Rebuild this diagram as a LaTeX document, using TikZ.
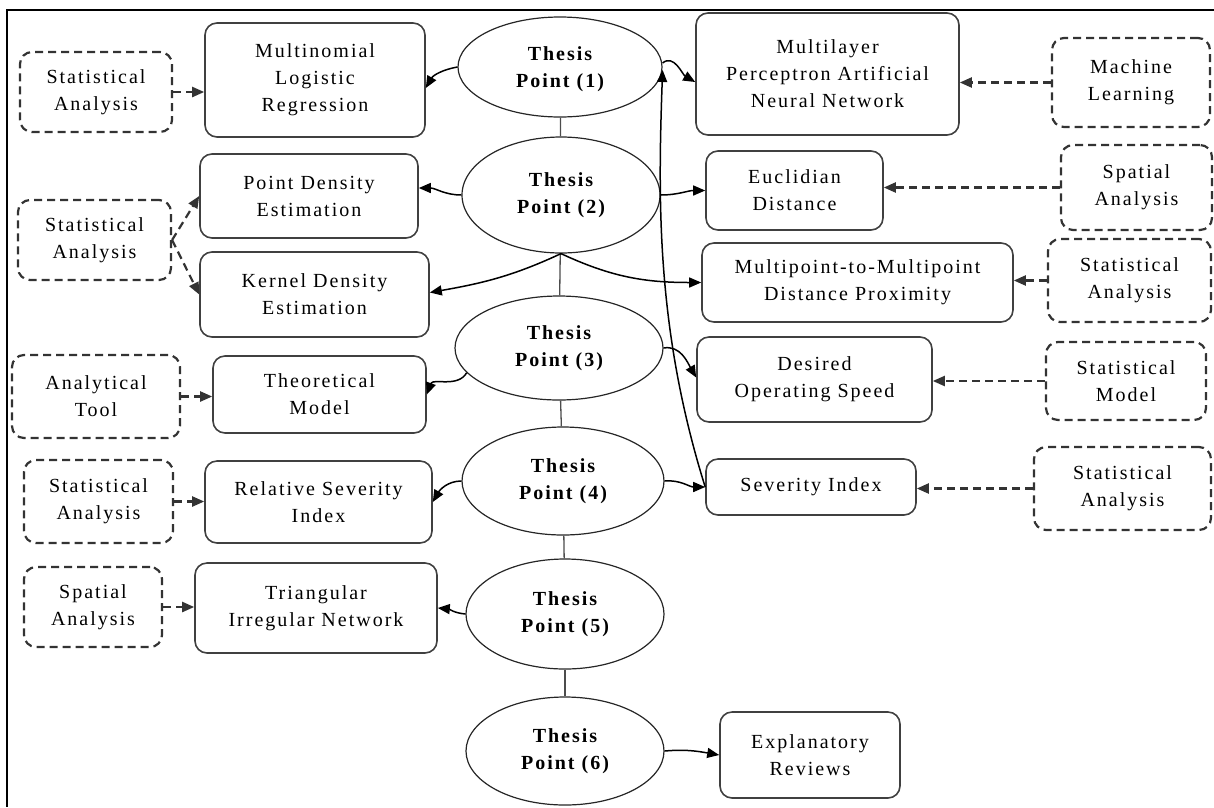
\documentclass[tikz,border=0pt]{standalone}
\usepackage{fontspec}
\setmainfont{Liberation Serif}[LetterSpace=10]
\usetikzlibrary{arrows.meta,shapes.geometric}
\begin{document}
\begin{tikzpicture}[x=1pt,y=1pt,
  font=\fontsize{20}{27}\selectfont,
  sbox/.style={draw=black!75, line width=1.6pt, rounded corners=12pt, align=center, inner sep=0pt},
  dbox/.style={draw=black!80, line width=2.2pt, dash pattern=on 8pt off 5pt, rounded corners=12pt, align=center, inner sep=0pt},
  tp/.style={ellipse, draw=black!85, line width=1.2pt, align=center, inner sep=0pt, font=\fontsize{20}{27}\selectfont\bfseries},
  arr/.style={-{Triangle[length=12pt,width=10pt]}, line width=1.5pt},
  darr/.style={-{Triangle[length=12pt,width=10pt]}, line width=2.2pt, black!80, dash pattern=on 8pt off 5pt},
  link/.style={line width=1.3pt, black!70}]
\useasboundingbox (0,0) rectangle (1214,-807);
% frame
\draw[line width=2.5pt] (1214,-10) -- (7,-10) -- (7,-807);

% thesis points
\node[tp, minimum width=204pt, minimum height=100pt, text depth=-4pt] (TP1) at (560,-67) {Thesis\\Point (1)};
\node[tp, minimum width=198pt, minimum height=116pt] (TP2) at (561,-195) {Thesis\\Point (2)};
\node[tp, minimum width=208pt, minimum height=104pt] (TP3) at (559,-348) {Thesis\\Point (3)};
\node[tp, minimum width=202pt, minimum height=108pt] (TP4) at (563,-481) {Thesis\\Point (4)};
\node[tp, minimum width=198pt, minimum height=110pt] (TP5) at (565,-614) {Thesis\\Point (5)};
\node[tp, minimum width=198pt, minimum height=108pt] (TP6) at (565,-751) {Thesis\\Point (6)};

% left column
\node[dbox, minimum width=152pt, minimum height=80pt] (SAa) at (96,-92) {Statistical\\Analysis};
\node[sbox, minimum width=220pt, minimum height=114pt] (MLR) at (315,-80) {Multinomial\\Logistic\\Regression};
\node[sbox, minimum width=218pt, minimum height=84pt] (PDE) at (309,-196) {Point Density\\Estimation};
\node[dbox, minimum width=153pt, minimum height=80pt] (SAb) at (94.5,-240) {Statistical\\Analysis};
\node[sbox, minimum width=229pt, minimum height=85pt] (KDE) at (314.5,-294.5) {Kernel Density\\Estimation};
\node[dbox, minimum width=168pt, minimum height=83pt] (AT) at (96,-396.5) {Analytical\\Tool};
\node[sbox, minimum width=213pt, minimum height=77pt] (TM) at (319.5,-394.5) {Theoretical\\Model};
\node[dbox, minimum width=149pt, minimum height=83pt] (SAc) at (98.5,-501.5) {Statistical\\Analysis};
\node[sbox, minimum width=227pt, minimum height=82pt] (RSI) at (318.5,-502) {Relative Severity\\Index};
\node[dbox, minimum width=138pt, minimum height=80pt] (SpA) at (93,-607) {Spatial\\Analysis};
\node[sbox, minimum width=242pt, minimum height=90pt] (TIN) at (316,-608) {Triangular\\Irregular Network};
\node[sbox, minimum width=180pt, minimum height=86pt] (ER) at (810,-755) {Explanatory\\Reviews};

% right column
\node[sbox, minimum width=263pt, minimum height=122pt] (MLP) at (827.5,-74) {Multilayer\\Perceptron Artificial\\Neural Network};
\node[dbox, minimum width=158pt, minimum height=89pt] (ML) at (1131,-82.5) {Machine\\Learning};
\node[sbox, minimum width=177pt, minimum height=79pt] (ED) at (794.5,-190.5) {Euclidian\\Distance};
\node[dbox, minimum width=151pt, minimum height=85pt] (SpB) at (1136.5,-187.5) {Spatial\\Analysis};
\node[sbox, minimum width=311pt, minimum height=79pt] (MMDP) at (857.5,-282.5) {Multipoint-to-Multipoint\\Distance Proximity};
\node[dbox, minimum width=163pt, minimum height=83pt] (SAd) at (1129.5,-280.5) {Statistical\\Analysis};
\node[sbox, minimum width=235pt, minimum height=85pt] (DOS) at (814.5,-379.5) {Desired\\Operating Speed};
\node[dbox, minimum width=160pt, minimum height=78pt] (SM) at (1126,-381) {Statistical\\Model};
\node[sbox, minimum width=210pt, minimum height=56pt] (SI) at (811,-487) {Severity Index};
\node[dbox, minimum width=177pt, minimum height=83pt] (SAe) at (1122.5,-488.5) {Statistical\\Analysis};

% spine links
\draw[link] (TP1) -- (TP2);
\draw[link] (TP2) -- (TP3);
\draw[link] (TP3) -- (TP4);
\draw[link] (TP4) -- (TP5);
\draw[link] (TP5) -- (TP6);

% thesis point arrows
\draw[arr] (TP1.west) to[out=190,in=60] ([yshift=-8pt]MLR.east);
\draw[arr] ([yshift=4pt]TP1.east) to[out=40,in=150] ([yshift=-8pt]MLP.west);
\draw[arr] (TP2.west) to[out=180,in=0] ([yshift=8pt]PDE.east);
\draw[arr] (TP2.south) to[out=205,in=10] ([yshift=2pt]KDE.east);
\draw[arr] (TP2.south) to[out=-25,in=180] (MMDP.west);
\draw[arr] (TP2.east) to[out=0,in=180] (ED.west);
\draw[arr] (TP3.195) to[out=240,in=70] (TM.east);
\draw[arr] (TP3.east) to[out=10,in=120] ([yshift=2pt]DOS.west);
\draw[arr] (TP4.west) to[out=180,in=60] (RSI.east);
\draw[arr] (TP4.east) to[out=5,in=180] (SI.west);
\draw[arr] (TP5.west) to[out=175,in=-5] (TIN.east);
\draw[arr] (TP6.east) to[out=5,in=170] (ER.west);
\draw[arr] (SI.west) .. controls (656,-330) and (658,-200) .. ([yshift=-3pt]TP1.east);

% dashed arrows
\draw[darr] (SAa.east) -- (SAa.east -| MLR.west);
\draw[darr] (SAb.east) -- (PDE.west);
\draw[darr] (SAb.east) -- (KDE.west);
\draw[darr] (AT.east) -- (AT.east -| TM.west);
\draw[darr] (SAc.east) -- (SAc.east -| RSI.west);
\draw[darr] (SpA.east) -- (SpA.east -| TIN.west);
\draw[darr] (ML.west) -- (ML.west -| MLP.east);
\draw[darr] (SpB.west) -- (SpB.west -| ED.east);
\draw[darr] (SAd.west) -- (SAd.west -| MMDP.east);
\draw[darr] (SM.west) -- (SM.west -| DOS.east);
\draw[darr] (SAe.west) -- (SAe.west -| SI.east);
\end{tikzpicture}
\end{document}
